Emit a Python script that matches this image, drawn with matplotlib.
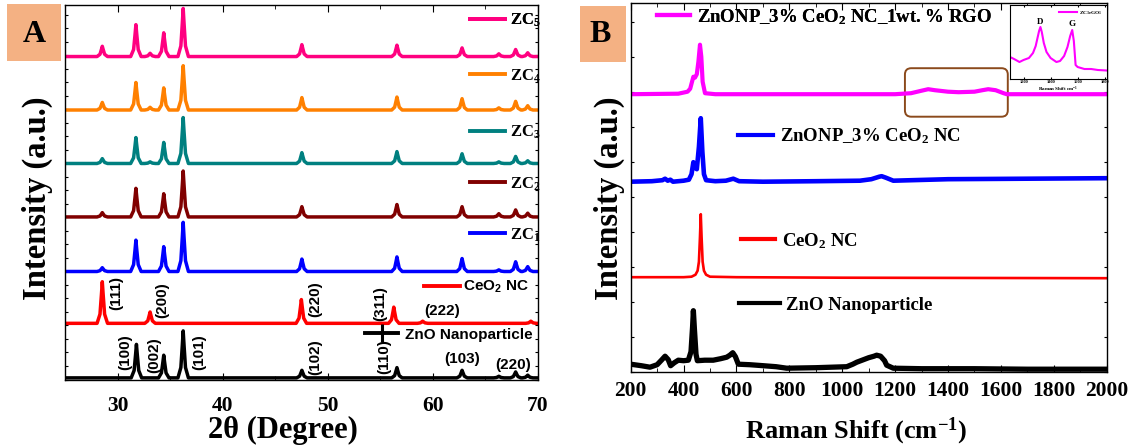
import matplotlib
matplotlib.use("Agg")
import matplotlib.pyplot as plt
from matplotlib.patches import Rectangle, FancyBboxPatch
from matplotlib.lines import Line2D
from matplotlib.ticker import MultipleLocator

plt.rcParams.update({
    "font.family": "Liberation Serif",
    "font.weight": "bold",
    "axes.labelweight": "bold",
    "mathtext.fontset": "custom",
    "mathtext.default": "regular",
    "xtick.direction": "in",
    "ytick.direction": "in",
    "xtick.top": True,
    "ytick.right": True,
    "axes.linewidth": 1.0,
})

# ---------------- data: XRD (panel A) ----------------
# peak positions (2theta, deg) and peak heights (a.u.)
zno_pos = [31.8, 34.4, 36.25, 47.55, 56.6, 62.8, 66.3, 67.9, 69.05]
zno_hgt = [0.62, 0.42, 0.87, 0.14, 0.19, 0.14, 0.03, 0.11, 0.05]
ceo2_pos = [28.55, 33.1, 47.5, 56.3, 59.05, 69.35]
ceo2_hgt = [0.77, 0.21, 0.44, 0.30, 0.04, 0.04]
zc_pos = [28.55, 31.75, 33.1, 34.4, 36.25, 47.55, 56.6, 62.8, 66.3, 67.9, 69.05]
zc1_hgt = [0.07, 0.58, 0.00, 0.46, 0.91, 0.23, 0.27, 0.24, 0.03, 0.18, 0.09]
zc2_hgt = [0.08, 0.53, 0.00, 0.43, 0.85, 0.19, 0.23, 0.19, 0.06, 0.13, 0.07]
zc3_hgt = [0.09, 0.48, 0.03, 0.39, 0.85, 0.20, 0.22, 0.18, 0.03, 0.13, 0.05]
zc4_hgt = [0.14, 0.51, 0.05, 0.41, 0.82, 0.23, 0.24, 0.21, 0.04, 0.16, 0.08]
zc5_hgt = [0.19, 0.59, 0.06, 0.44, 0.89, 0.22, 0.21, 0.16, 0.05, 0.13, 0.07]
xrd_offsets = [0.03, 1.04, 2.0, 3.01, 4.0, 4.99, 5.98]
xrd_labels = ["ZnO Nanoparticle", "CeO$_2$ NC", "ZC$_1$", "ZC$_2$", "ZC$_3$", "ZC$_4$", "ZC$_5$"]
hkl_labels = ["(111)", "(200)", "(220)", "(311)", "(222)",
              "(100)", "(002)", "(101)", "(102)", "(110)", "(103)", "(220)"]

# ---------------- data: Raman (panel B) ----------------
zno_r_x = [200, 240, 273, 300, 318, 330, 342, 351, 365, 380, 400, 418, 428, 434, 437, 441, 447, 452,
           480, 512, 540, 563, 575, 586, 596, 607, 650, 701, 750, 790, 900, 1017, 1040, 1055, 1080,
           1100, 1120, 1130, 1145, 1160, 1168, 1193, 1300, 1500, 1700, 2000]
zno_r_y = [0.15, 0.12, 0.09, 0.14, 0.24, 0.31, 0.24, 0.12, 0.18, 0.23, 0.22, 0.23, 0.40, 0.90, 1.22, 0.85,
           0.35, 0.22, 0.23, 0.23, 0.26, 0.29, 0.33, 0.38, 0.30, 0.15, 0.14, 0.12, 0.10, 0.07, 0.08, 0.10,
           0.15, 0.19, 0.24, 0.28, 0.31, 0.33, 0.31, 0.22, 0.13, 0.07, 0.06, 0.06, 0.05, 0.05]
ceo2_r_x = [200, 400, 430, 445, 453, 458, 462, 465, 468, 472, 477, 485, 500, 600, 1000, 2000]
ceo2_r_y = [1.89, 1.89, 1.90, 1.94, 2.02, 2.20, 2.70, 3.15, 2.70, 2.20, 2.02, 1.94, 1.90, 1.89, 1.88, 1.87]
zc_r_x = [200, 280, 320, 330, 340, 350, 360, 400, 420, 430, 437, 443, 450, 458, 465, 471, 477, 485,
          520, 560, 588, 610, 700, 900, 1067, 1110, 1140, 1149, 1165, 1193, 1400, 1700, 2000]
zc_r_y = [3.80, 3.81, 3.83, 3.86, 3.82, 3.84, 3.80, 3.82, 3.84, 3.95, 4.19, 4.08, 4.05, 4.50, 5.07, 4.40,
          3.95, 3.83, 3.81, 3.82, 3.86, 3.81, 3.80, 3.81, 3.82, 3.85, 3.90, 3.91, 3.88, 3.82, 3.85, 3.86, 3.87]
zcg_r_x = [200, 380, 415, 425, 432, 437, 443, 450, 456, 462, 467, 472, 481, 520, 800, 1200, 1260, 1300,
           1325, 1350, 1400, 1440, 1500, 1530, 1552, 1580, 1610, 1622, 1800, 2000]
zcg_r_y = [5.55, 5.56, 5.60, 5.66, 5.80, 5.90, 5.88, 5.95, 6.20, 6.54, 6.30, 5.80, 5.57, 5.55, 5.55, 5.55,
           5.57, 5.62, 5.65, 5.63, 5.60, 5.59, 5.60, 5.63, 5.65, 5.63, 5.57, 5.55, 5.55, 5.55]
raman_labels = ["ZnO Nanoparticle", "CeO$_2$ NC", "ZnONP_3% CeO$_2$ NC",
                "ZnONP_3% CeO$_2$ NC_1wt. % RGO"]
# inset: D and G bands of the RGO composite
inset_x = [1100, 1130, 1170, 1200, 1240, 1270, 1290, 1305, 1315, 1325, 1335, 1350, 1370, 1400, 1443,
           1470, 1500, 1525, 1545, 1560, 1572, 1585, 1600, 1650, 1700, 1750, 1815]
inset_y = [22, 20, 17, 19, 21, 26, 33, 42, 48, 52, 47, 36, 27, 21, 17, 18, 23, 32, 43, 49, 38, 14, 12,
           10, 10, 9, 8.5]
box_range = (1237, 1626)


def xrd_trace(pos, hgt, base):
    xs, ys = [25], [base]
    for p, h in zip(pos, hgt):
        for dx, f in ((-0.5, 0), (-0.22, 0.22), (-0.08, 0.7), (0, 1),
                      (0.08, 0.7), (0.22, 0.22), (0.5, 0)):
            xs.append(p + dx)
            ys.append(base + f * h)
    xs.append(70)
    ys.append(base)
    return xs, ys


fig = plt.figure(figsize=(11.39, 4.48), dpi=100)
axA = fig.add_axes([0.05707, 0.15290, 0.41501, 0.83661])
axB = fig.add_axes([0.55373, 0.17031, 0.41791, 0.82232])

# ---------------- panel A ----------------
colorsA = ["black", "#FF0000", "#0000FF", "#800000", "#008080", "#FF8000", "#FF0080"]
peaks = [(zno_pos, zno_hgt), (ceo2_pos, ceo2_hgt), (zc_pos, zc1_hgt), (zc_pos, zc2_hgt),
         (zc_pos, zc3_hgt), (zc_pos, zc4_hgt), (zc_pos, zc5_hgt)]
for (pos, hgt), off, c in zip(peaks, xrd_offsets, colorsA):
    xs, ys = xrd_trace(pos, hgt, off)
    axA.plot(xs, ys, color=c, lw=2.5, solid_joinstyle="round")

axA.set_xlim(25, 70)
axA.set_ylim(0, 6.94)
axA.xaxis.set_major_locator(MultipleLocator(10))
axA.xaxis.set_minor_locator(MultipleLocator(5))
axA.yaxis.set_major_locator(MultipleLocator(0.25))
axA.tick_params(axis="x", which="major", length=5, labelsize=15.5, pad=12)
axA.tick_params(axis="x", which="minor", length=3)
axA.tick_params(axis="y", length=2.5, labelleft=False)
axA.set_xlabel("2θ (Degree)", fontsize=22, va="center")
axA.xaxis.set_label_coords(0.46, -0.137)
axA.set_ylabel("Intensity (a.u.)", fontsize=23.5, va="center")
axA.yaxis.set_label_coords(-0.059, 0.484)

# per-trace legends
anchA = [(0.635, 0.120), (0.760, 0.246), (0.857, 0.386), (0.857, 0.522),
         (0.857, 0.660), (0.857, 0.810), (0.857, 0.959)]
for i, (lab, c, anc) in enumerate(zip(xrd_labels, colorsA, anchA)):
    if i == 0:
        h = Line2D([], [], color=c, lw=2.8, marker="|", markersize=13, mew=2.2)
        prop = dict(family="Liberation Sans", weight="bold", size=11)
        hl, tp = 2.15, 0.45
    elif i == 1:
        h = Line2D([], [], color=c, lw=2.8)
        prop = dict(family="Liberation Sans", weight="bold", size=11)
        hl, tp = 2.35, 0.2
    else:
        h = Line2D([], [], color=c, lw=2.8)
        prop = dict(family="Liberation Serif", weight="bold", size=12)
        hl, tp = 2.1, 0.3
    leg = axA.legend([h], [lab], loc="center left", bbox_to_anchor=anc, frameon=False,
                     borderpad=0, borderaxespad=0, handlelength=hl, handletextpad=tp, prop=prop)
    axA.add_artist(leg)

# hkl labels
hkl_xy = [(29.92, 1.60), (34.26, 1.47), (48.79, 1.48), (54.98, 1.40), (60.91, 1.26),
          (30.71, 0.51), (33.47, 0.46), (37.78, 0.51), (48.79, 0.41), (55.36, 0.42),
          (62.85, 0.38), (67.67, 0.26)]
hkl_rot = [90, 90, 90, 90, 0, 90, 90, 90, 90, 90, 0, 0]
for lab, (x, y), r in zip(hkl_labels, hkl_xy, hkl_rot):
    axA.text(x, y, lab, rotation=r, ha="center", va="center", family="Liberation Sans",
             fontweight="bold", fontsize=11)

# ---------------- panel B ----------------
colorsB = ["black", "#FF0000", "#0000FF", "#FF00FF"]
lwB = [3.8, 1.9, 3.3, 3.0]
series = [(zno_r_x, zno_r_y), (ceo2_r_x, ceo2_r_y), (zc_r_x, zc_r_y), (zcg_r_x, zcg_r_y)]
for (x, y), c, lw in zip(series, colorsB, lwB):
    axB.plot(x, y, color=c, lw=lw, solid_joinstyle="round")

axB.set_xlim(200, 2000)
axB.set_ylim(0, 7.368)
axB.xaxis.set_major_locator(MultipleLocator(200))
axB.xaxis.set_minor_locator(MultipleLocator(100))
axB.yaxis.set_major_locator(MultipleLocator(0.7))
axB.tick_params(axis="x", which="major", length=5, labelsize=15.5, pad=7)
axB.tick_params(axis="x", which="minor", length=3)
axB.tick_params(axis="y", length=2.5, labelleft=False)
axB.set_xlabel("Raman Shift (cm$^{-1}$)", fontsize=19, va="center")
axB.xaxis.set_label_coords(0.473, -0.161)
axB.set_ylabel("Intensity (a.u.)", fontsize=23.5, va="center")
axB.yaxis.set_label_coords(-0.045, 0.4715)

anchB = [(0.228, 0.181), (0.231, 0.3556), (0.226, 0.6398), (0.0546, 0.9636)]
hlB = [2.17, 1.85, 1.87, 1.78]
for lab, c, anc, hl in zip(raman_labels, colorsB, anchB, hlB):
    h = Line2D([], [], color=c, lw=3.0)
    leg = axB.legend([h], [lab], loc="center left", bbox_to_anchor=anc, frameon=False,
                     borderpad=0, borderaxespad=0, handlelength=hl, handletextpad=0.35,
                     prop=dict(family="Liberation Serif", weight="bold", size=13.5))
    axB.add_artist(leg)

axB.add_patch(FancyBboxPatch((box_range[0], 5.10), box_range[1] - box_range[0], 0.97,
                             boxstyle="round,pad=0,rounding_size=24", mutation_aspect=0.0053,
                             facecolor="none", edgecolor="#8B4A1C", lw=1.4))

# inset
axIn = fig.add_axes([1010 / 1139, 1 - 79 / 448, 96.7 / 1139, 74 / 448])
axIn.plot(inset_x, inset_y, color="#FF00FF", lw=1.5, label="ZC$_3$rGO$_1$")
axIn.set_xlim(1100, 1815)
axIn.set_ylim(0, 74)
axIn.set_xticks([1200, 1400, 1600, 1800])
axIn.set_yticks([])
axIn.tick_params(axis="x", labelsize=3.2, length=1.5, pad=1)
axIn.set_xlabel("Raman Shift cm$^{-1}$", fontsize=3.6, labelpad=0.5)
axIn.text(1325, 57.5, "D", ha="center", va="center", fontsize=6.5, fontweight="bold")
axIn.text(1560, 55, "G", ha="center", va="center", fontsize=6.5, fontweight="bold")
axIn.legend(loc="upper right", frameon=False, fontsize=3.8, handlelength=3.5,
            borderpad=0.3, handletextpad=0.3)
for s in axIn.spines.values():
    s.set_linewidth(0.8)

# panel letters
fig.add_artist(Rectangle((7 / 1139, 1 - 61 / 448), 54 / 1139, 57 / 448,
                         transform=fig.transFigure, facecolor="#F4B183", edgecolor="none"))
fig.text(34 / 1139, 1 - 34 / 448, "A", ha="center", va="center", fontsize=23, fontweight="bold")
fig.add_artist(Rectangle((580 / 1139, 1 - 62 / 448), 46 / 1139, 56 / 448,
                         transform=fig.transFigure, facecolor="#F4B183", edgecolor="none"))
fig.text(600 / 1139, 1 - 35 / 448, "B", ha="center", va="center", fontsize=23, fontweight="bold")

fig.savefig("out.png", dpi=100)
